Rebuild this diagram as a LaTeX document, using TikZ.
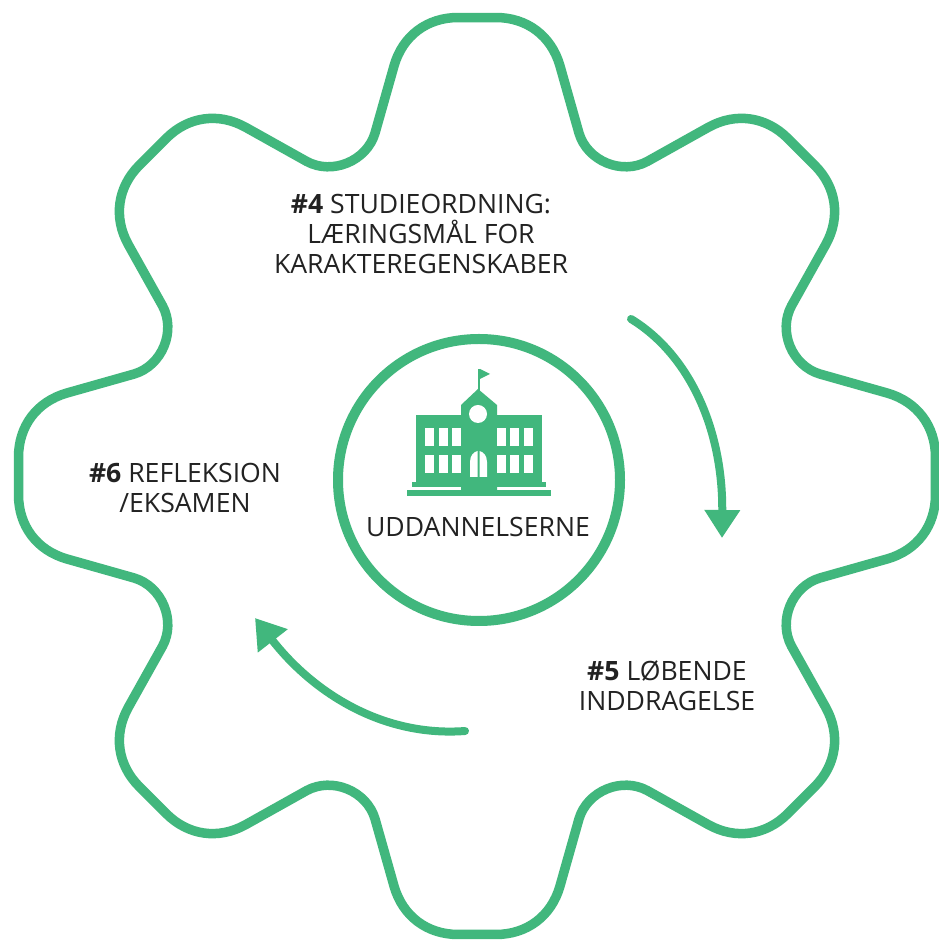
\documentclass[tikz,border=0pt]{standalone}
\usepackage{fontspec}
\setmainfont{Open Sans}
\usetikzlibrary{arrows.meta}
\definecolor{gr}{HTML}{41B77D}
\definecolor{ink}{HTML}{222222}
\tikzset{
  gearline/.style={draw=gr,line width=9.5pt,line join=round},
  flow/.style={draw=gr,line width=8pt,line cap=round},
  lbl/.style={text=ink,align=center,inner sep=0pt,font=\fontsize{26.6}{30}\selectfont}
}
\begin{document}
\begin{tikzpicture}[x=1pt,y=1pt]
\useasboundingbox (0,0) rectangle (939,940);
\fill[white] (0,0) rectangle (939,940);
% gear outline
\begin{scope}[shift={(477,464)}]
\draw[gearline] (92.37:458.9)
 \foreach \a in {0,45,...,315}{
  -- ({90-\a-2.37}:458.9)
  .. controls ({90-\a-6.22}:461.2) and ({90-\a-9.58}:446.4) .. ({90-\a-11.42}:418.7)
  -- ({90-\a-16.56}:357.8)
  .. controls ({90-\a-19.29}:333.7) and ({90-\a-25.71}:333.7) .. ({90-\a-28.44}:357.8)
  -- ({90-\a-33.58}:418.7)
  .. controls ({90-\a-35.42}:446.4) and ({90-\a-38.78}:461.2) .. ({90-\a-42.63}:458.9)
 } -- cycle;
\end{scope}
% centre circle
\node[circle,draw=gr,line width=10pt,minimum size=282pt,inner sep=0pt] (hub) at (479,460) {};
% building
\begin{scope}[yscale=-1,yshift=-940pt]
\fill[gr] (416,415) rectangle (542,482);
\fill[gr] (461,496) -- (461,405) -- (478,389) -- (497,405) -- (497,496) -- cycle;
\fill[gr] (412,482) rectangle (546,487);
\fill[gr] (407,490) rectangle (551,496);
\fill[gr] (478,369) rectangle (480,391);
\fill[gr] (480,369) -- (490,374) -- (480,379) -- cycle;
\fill[white] (478,414) circle (9);
\foreach \x in {425,439,452,497,510,524}{
  \fill[white] (\x,428) rectangle (\x+9,446);
  \fill[white] (\x,455) rectangle (\x+9,473);
}
\fill[white] (470,477) -- (470,462) .. controls (470,455) and (474,452) .. (477.5,451) -- (477.5,477) -- cycle;
\fill[white] (487,477) -- (487,462) .. controls (487,455) and (483,452) .. (479.5,451) -- (479.5,477) -- cycle;
\end{scope}
% labels
\node[lbl] (hubtext) at (478,412.5) {UDDANNELSERNE};
\node[lbl] (t4) at (421,706) {\textbf{\#4} STUDIEORDNING:\\LÆRINGSMÅL FOR\\KARAKTEREGENSKABER};
\node[lbl] (t5) at (667,254) {\textbf{\#5} LØBENDE\\INDDRAGELSE};
\node[lbl] (t6) at (185,452.5) {\textbf{\#6} REFLEKSION\\/EKSAMEN};
% arrows
\coordinate (a1s) at (631,621);
\coordinate (a1e) at (722,402);
\coordinate (a2s) at (465,209);
\coordinate (a2e) at (255,322);
\draw[flow,-{Triangle[length=28pt,width=34pt]}] (a1s) .. controls (690,585) and (723,510) .. (a1e);
\draw[flow,-{Triangle[length=29pt,width=36pt]}] (a2s) .. controls (385,203) and (315,245) .. (a2e);
\end{tikzpicture}
\end{document}
